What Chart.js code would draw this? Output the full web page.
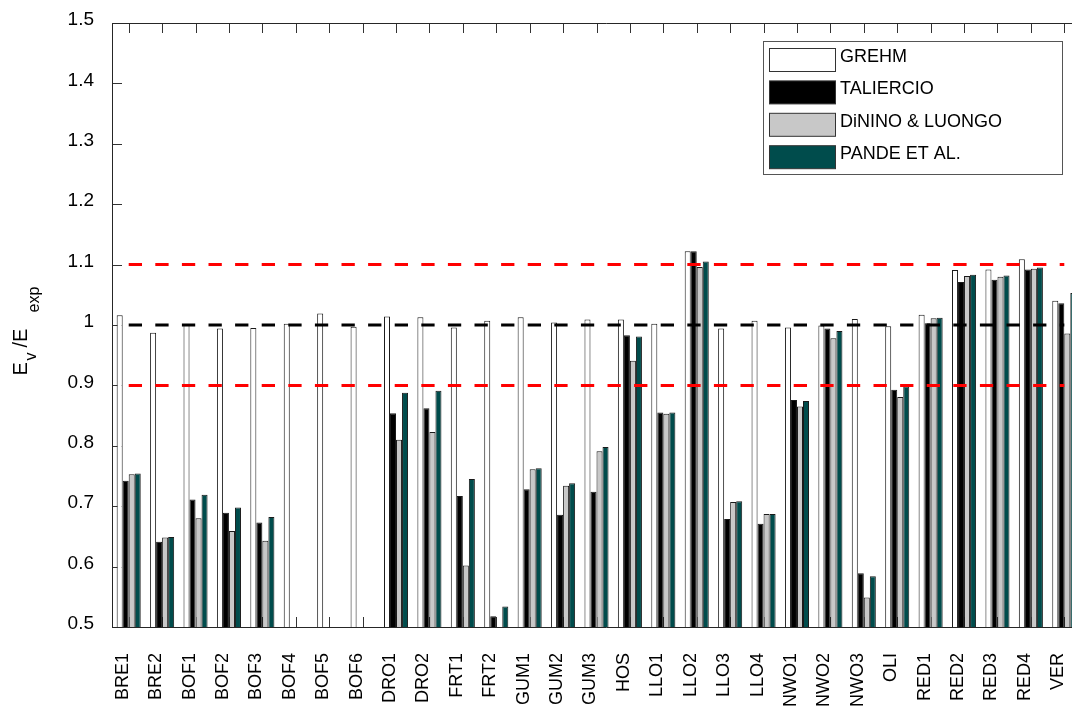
<!DOCTYPE html>
<html><head><meta charset="utf-8">
<script src="https://cdn.jsdelivr.net/npm/chart.js@4.4.1/dist/chart.umd.min.js"></script>
<style>
html,body{margin:0;padding:0;background:#fff;overflow:hidden;width:1072px;height:713px}
#wrap{position:absolute;left:0;top:0;width:1100px;height:713px}
</style>
</head><body>
<div id="wrap"><canvas id="c" width="1100" height="713"></canvas></div>
<script>
const categories = ['BRE1','BRE2','BOF1','BOF2','BOF3','BOF4','BOF5','BOF6','DRO1','DRO2','FRT1','FRT2','GUM1','GUM2','GUM3','HOS','LLO1','LLO2','LLO3','LLO4','NWO1','NWO2','NWO3','OLI','RED1','RED2','RED3','RED4','VER'];
const grehm     = [1.016,0.987,1.000,0.994,0.995,1.002,1.019,0.997,1.014,1.013,0.996,1.007,1.013,1.004,1.009,1.009,1.002,1.122,0.994,1.007,0.996,0.999,1.010,0.998,1.017,1.091,1.092,1.109,1.040];
const taliercio = [0.742,0.641,0.711,0.689,0.673,null,null,null,0.854,0.862,0.717,0.518,0.728,0.686,0.724,0.983,0.855,1.122,0.679,0.671,0.876,0.994,0.589,0.893,1.003,1.071,1.075,1.092,1.036];
const dinino    = [0.753,0.648,0.680,0.659,0.643,null,null,null,0.810,0.823,0.602,null,0.761,0.734,0.791,0.941,0.853,1.096,0.707,0.687,0.865,0.978,0.549,0.881,1.011,1.081,1.080,1.093,0.986];
const pande     = [0.754,0.649,0.719,0.698,0.682,null,null,null,0.888,0.891,0.745,0.534,0.763,0.738,0.798,0.981,0.855,1.105,0.708,0.687,0.874,0.990,0.584,0.898,1.012,1.083,1.082,1.095,1.053];
const seriesNames  = ['GREHM','TALIERCIO','DiNINO & LUONGO','PANDE ET AL.'];
const seriesColors = ['#ffffff','#000000','#c8c8c8','#004c4c'];
const refValues = [1.1, 1.0, 0.9];
const refColors = ['#ff0000', '#000000', '#ff0000'];
const yMin = 0.5, yMax = 1.5, yStep = 0.1;

const FONT = '"Liberation Sans", Arial, Helvetica, sans-serif';
const seriesData = [grehm, taliercio, dinino, pande];

const decoPlugin = {
  id: 'deco',
  beforeDatasetsDraw(chart) {
    const ctx = chart.ctx, a = chart.chartArea;
    const xs = chart.scales.x, ys = chart.scales.y;
    ctx.save();
    ctx.strokeStyle = '#333';
    ctx.lineWidth = 1;
    ctx.beginPath();
    ys.ticks.forEach(t => {
      const y = Math.round(ys.getPixelForValue(t.value)) + 0.5;
      ctx.moveTo(a.left, y); ctx.lineTo(a.left + 10, y);
    });
    for (let i = 0; i < categories.length; i++) {
      const x = Math.round(xs.getPixelForTick(i)) + 0.5;
      ctx.moveTo(x, a.bottom); ctx.lineTo(x, a.bottom - 10);
      ctx.moveTo(x, a.top); ctx.lineTo(x, a.top + 10);
    }
    ctx.stroke();
    ctx.restore();
  },
  afterDatasetsDraw(chart) {
    const ctx = chart.ctx, a = chart.chartArea;
    const xs = chart.scales.x, ys = chart.scales.y;
    ctx.save();
    const x0 = xs.getPixelForTick(0), x1 = xs.getPixelForTick(categories.length - 1);
    refValues.forEach((v, i) => {
      const y = ys.getPixelForValue(v);
      ctx.beginPath();
      ctx.setLineDash([13.3, 13.3]);
      ctx.lineWidth = 3;
      ctx.strokeStyle = refColors[i];
      ctx.moveTo(x0, y); ctx.lineTo(x1, y);
      ctx.stroke();
    });
    ctx.setLineDash([]);
    ctx.strokeStyle = '#262626';
    ctx.lineWidth = 1;
    ctx.beginPath();
    const L = Math.round(a.left) + 0.5, B = Math.round(a.bottom) + 0.5, T = Math.round(a.top) + 0.5;
    ctx.moveTo(L, T); ctx.lineTo(L, B);
    ctx.moveTo(L, B); ctx.lineTo(chart.width, B);
    ctx.moveTo(L, T); ctx.lineTo(chart.width, T);
    ctx.stroke();
    const bx = 763.5, by = 41.5, bw = 299, bh = 133;
    ctx.fillStyle = '#fff';
    ctx.fillRect(bx, by, bw, bh);
    ctx.strokeStyle = '#555';
    ctx.strokeRect(bx, by, bw, bh);
    ctx.font = '18px ' + FONT;
    ctx.textBaseline = 'alphabetic';
    ctx.textAlign = 'left';
    chart.data.datasets.forEach((ds, i) => {
      const ry = 48 + i * 32.4;
      ctx.fillStyle = ds.backgroundColor;
      ctx.fillRect(769.5, ry + 0.5, 66, 23);
      ctx.strokeStyle = '#333';
      ctx.strokeRect(769.5, ry + 0.5, 66, 23);
      ctx.fillStyle = '#000';
      ctx.fillText(ds.label, 840, ry + 14);
    });
    ctx.save();
    ctx.translate(27, 375.5);
    ctx.rotate(-Math.PI / 2);
    ctx.fillStyle = '#000';
    ctx.font = '20px ' + FONT;
    ctx.fillText('E', 0, 0);
    ctx.fillText('/E', 28, 0);
    ctx.font = '16px ' + FONT;
    ctx.fillText('v', 15, 9);
    ctx.fillText('exp', 63, 12);
    ctx.restore();
    ctx.restore();
  }
};

new Chart(document.getElementById('c'), {
  type: 'bar',
  data: {
    labels: categories,
    datasets: seriesData.map((d, i) => ({
      label: seriesNames[i],
      data: d,
      backgroundColor: seriesColors[i],
      borderColor: '#1a1a1a',
      borderWidth: 1,
      categoryPercentage: 0.72,
      barPercentage: 1.0
    }))
  },
  options: {
    responsive: false,
    animation: false,
    events: [],
    layout: { padding: { top: 23, right: 19, left: 0, bottom: 0 } },
    plugins: { legend: { display: false }, tooltip: { enabled: false }, title: { display: false } },
    scales: {
      x: {
        type: 'category',
        offset: true,
        grid: { display: false, drawTicks: false },
        border: { display: false },
        ticks: {
          autoSkip: false, maxRotation: 90, minRotation: 90, padding: 26, labelOffset: -6,
          color: '#000', font: { family: FONT, size: 18 }
        },
        afterFit: s => { s.height = 86; s.paddingLeft = 0; s.paddingRight = 0; }
      },
      y: {
        min: yMin, max: yMax,
        grid: { display: false, drawTicks: false },
        border: { display: false },
        ticks: {
          stepSize: yStep, padding: 18, labelOffset: -3, color: '#000', font: { family: FONT, size: 19 },
          callback: v => String(Number(v.toFixed(1)))
        },
        afterFit: s => { s.width = 112; s.paddingTop = 0; s.paddingBottom = 0; }
      }
    }
  },
  plugins: [decoPlugin]
});
</script>
</body></html>
